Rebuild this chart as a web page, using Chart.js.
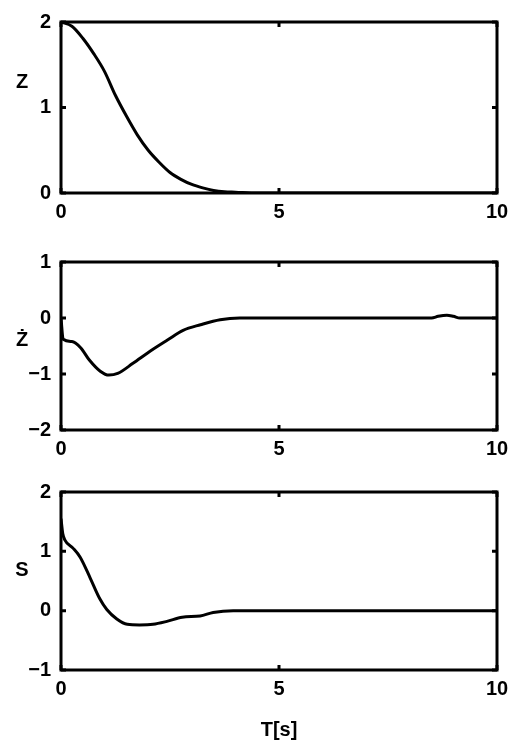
<!DOCTYPE html>
<html>
<head>
<meta charset="utf-8">
<script src="https://cdn.jsdelivr.net/npm/chart.js@4.4.1/dist/chart.umd.min.js"></script>
<style>
  html, body { margin: 0; padding: 0; background: #fff; }
  body { width: 516px; height: 746px; position: relative; overflow: hidden; }
  .wrap { position: absolute; left: 0; width: 516px; }
</style>
</head>
<body>
<div class="wrap" style="top:0;height:240px"><canvas id="c1"></canvas></div>
<div class="wrap" style="top:240px;height:230px"><canvas id="c2"></canvas></div>
<div class="wrap" style="top:470px;height:276px"><canvas id="c3"></canvas></div>
<script>
// ---- data ----
const zTime  = [0,0.25,0.5,0.75,1.0,1.25,1.5,1.75,2.0,2.25,2.5,2.75,3.0,3.25,3.5,3.75,4.0,4.5,5,6,7,8,9,10];
const zValues = [2.0,1.95,1.81,1.63,1.42,1.14,0.90,0.68,0.50,0.36,0.24,0.16,0.10,0.06,0.03,0.015,0.01,0,0,0,0,0,0,0];

const zdTime  = [0,0.05,0.25,0.45,0.65,0.9,1.1,1.3,1.65,2.05,2.45,2.8,3.2,3.65,4.1,5,6,7,8,8.5,8.65,8.85,9.0,9.15,9.5,10];
const zdValues = [0,-0.38,-0.42,-0.53,-0.75,-0.95,-1.02,-0.99,-0.81,-0.59,-0.39,-0.22,-0.12,-0.03,0,0,0,0,0,0,0.03,0.05,0.03,0,0,0];

const sTime  = [0,0.04,0.09,0.28,0.44,0.67,0.89,1.05,1.28,1.52,1.8,2.11,2.43,2.78,3.19,3.49,3.95,5,6,7,8,9,10];
const sValues = [1.55,1.3,1.19,1.05,0.9,0.55,0.2,0.02,-0.14,-0.23,-0.24,-0.23,-0.18,-0.11,-0.09,-0.03,0,0,0,0,0,0,0];

const xTicks = [0,5,10];
const zTicks = [0,1,2];
const zdTicks = [-2,-1,0,1];
const sTicks = [-1,0,1,2];

const yLabels = ['Z', '\u017B', 'S'];
const xTitle = 'T[s]';

// ---- drawing ----
const FONT = "'Liberation Sans', Arial, sans-serif";
const fmt = v => (v < 0 ? '\u2212' + Math.abs(v) : String(v));

const framePlugin = {
  id: 'frame',
  afterDraw(chart, args, opts) {
    const {ctx, chartArea: a, scales} = chart;
    ctx.save();
    ctx.strokeStyle = '#000';
    ctx.lineWidth = 3;
    ctx.strokeRect(a.left, a.top, a.right - a.left, a.bottom - a.top);
    const m = 5;
    scales.y.ticks.forEach(t => {
      const y = scales.y.getPixelForValue(t.value);
      ctx.beginPath();
      ctx.moveTo(a.left, y); ctx.lineTo(a.left + m, y);
      ctx.moveTo(a.right, y); ctx.lineTo(a.right - m, y);
      ctx.stroke();
    });
    scales.x.ticks.forEach(t => {
      const x = scales.x.getPixelForValue(t.value);
      ctx.beginPath();
      ctx.moveTo(x, a.top); ctx.lineTo(x, a.top + m);
      ctx.moveTo(x, a.bottom); ctx.lineTo(x, a.bottom - m);
      ctx.stroke();
    });
    ctx.fillStyle = '#000';
    ctx.font = 'bold 20px ' + FONT;
    ctx.textAlign = 'center';
    ctx.textBaseline = 'middle';
    ctx.fillText(opts.label, 22, opts.labelY);
    ctx.restore();
  }
};

function makeChart(id, times, values, yMin, yMax, yTicks, cfg) {
  const pts = times.map((t, i) => ({x: t, y: values[i]}));
  return new Chart(document.getElementById(id), {
    type: 'line',
    data: { datasets: [{
      data: pts,
      borderColor: '#000',
      borderWidth: 3,
      pointRadius: 0,
      cubicInterpolationMode: 'monotone',
      fill: false
    }]},
    options: {
      responsive: true,
      maintainAspectRatio: false,
      animation: false,
      events: [],
      layout: { padding: { top: cfg.top, right: 19, left: 0, bottom: 0 } },
      plugins: {
        legend: { display: false },
        tooltip: { enabled: false },
        frame: { label: cfg.label, labelY: cfg.labelY }
      },
      scales: {
        x: {
          type: 'linear', min: 0, max: 10,
          afterBuildTicks: s => { s.ticks = xTicks.map(v => ({value: v})); },
          grid: { display: false, drawTicks: false },
          border: { display: false },
          ticks: { color: '#000', padding: 7, maxRotation: 0, callback: fmt,
                   font: { family: FONT, size: 20, weight: 'bold' } },
          title: cfg.title ? { display: true, text: cfg.title, color: '#000', padding: {top: 13},
                   font: { family: FONT, size: 20, weight: 'bold' } } : { display: false },
          afterFit: s => { s.height = cfg.xh; }
        },
        y: {
          type: 'linear', min: yMin, max: yMax,
          afterBuildTicks: s => { s.ticks = yTicks.map(v => ({value: v})); },
          grid: { display: false, drawTicks: false },
          border: { display: false },
          ticks: { color: '#000', padding: 10, callback: fmt,
                   font: { family: FONT, size: 20, weight: 'bold' } },
          afterFit: s => { s.width = 61; }
        }
      }
    },
    plugins: [framePlugin]
  });
}

makeChart('c1', zTime, zValues, 0, 2, zTicks, {top: 16, xh: 47, label: yLabels[0], labelY: 82});
makeChart('c2', zdTime, zdValues, -2, 1, zdTicks, {top: 13, xh: 40, label: yLabels[1], labelY: 100});
makeChart('c3', sTime, sValues, -1, 2, sTicks, {top: 18, xh: 76, label: yLabels[2], labelY: 100, title: xTitle});
</script>
</body>
</html>
